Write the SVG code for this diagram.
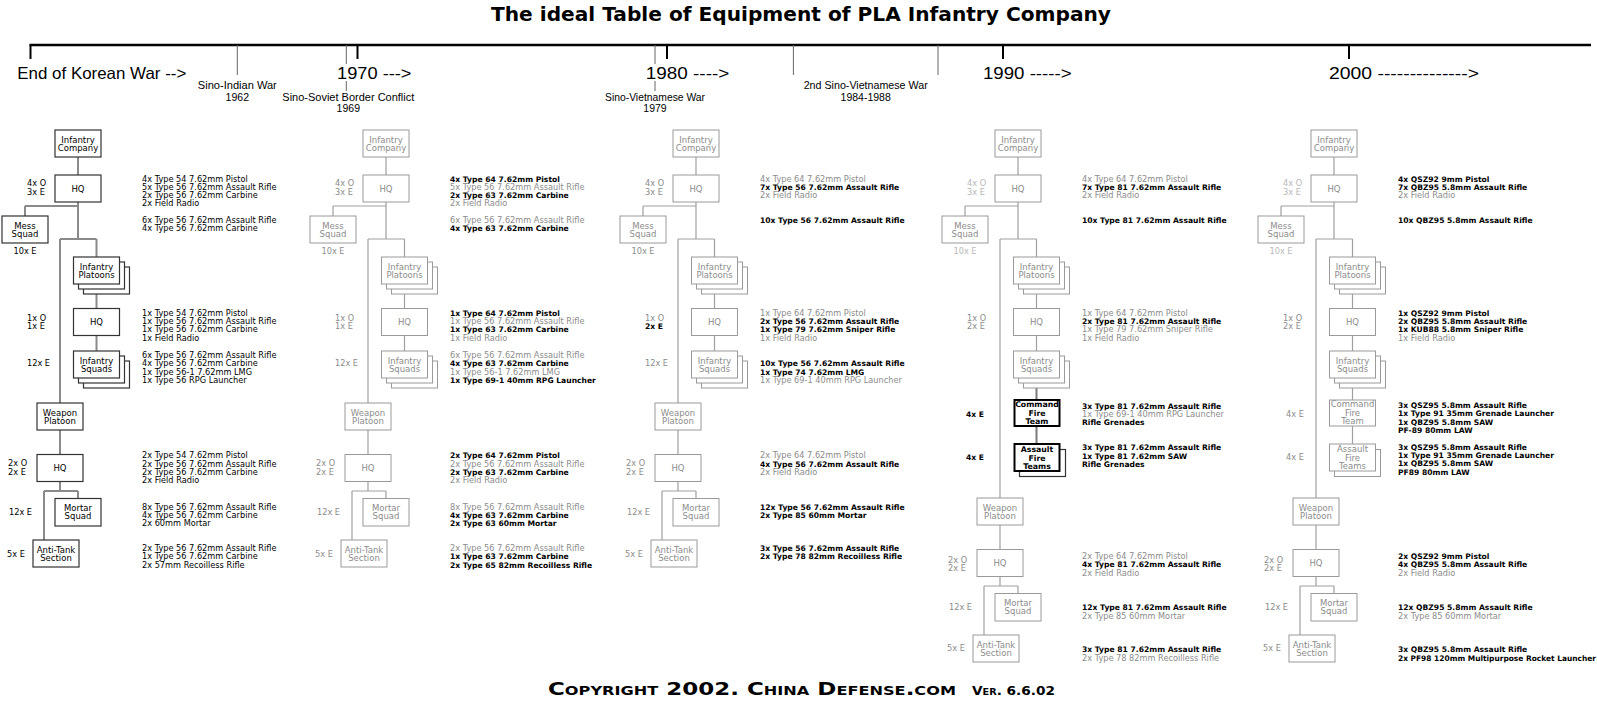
<svg xmlns="http://www.w3.org/2000/svg" width="1597" height="722" viewBox="0 0 1597 722">
<style>
text{font-family:"DejaVu Sans",Verdana,sans-serif}
.e{font-size:8.2px}
.k{fill:#000}
.g{fill:#8c8c8c}
.lg{fill:#b8b8b8}
.b{fill:#000;font-weight:bold;font-size:7.6px}
.n{font-size:8.5px;text-anchor:middle}
.nb{font-size:7.8px;font-weight:bold;text-anchor:middle;fill:#000}
.mid{text-anchor:middle}
.box1{fill:#fff;stroke:#333;stroke-width:1.2}
.box{fill:#fff;stroke:#9a9a9a;stroke-width:1}
.boxk{fill:#fff;stroke:#000;stroke-width:2}
.c1{fill:none;stroke:#8a8a8a;stroke-width:2}
.c{fill:none;stroke:#a0a0a0;stroke-width:1.2}
.ck{fill:none;stroke:#7a7a7a;stroke-width:2}
.tl{font-family:"Liberation Sans",Arial,sans-serif;fill:#000}
.big{font-size:16.5px}
.ev{font-size:10.5px;text-anchor:middle}
.thin{stroke:#666;stroke-width:1}
.thick{stroke:#000;stroke-width:2}
</style>

<g id="title">
<text x="491" y="20.5" font-size="19" font-weight="bold" textLength="620" lengthAdjust="spacingAndGlyphs">The ideal Table of Equipment of PLA Infantry Company</text>
</g>

<g id="timeline">
<line x1="29.5" y1="45" x2="1591" y2="45" stroke="#000" stroke-width="2.5"/>
<line class="thick" x1="30.5" y1="45" x2="30.5" y2="59"/>
<line class="thin" x1="237.3" y1="45" x2="237.3" y2="75"/>
<line class="thin" x1="346.3" y1="45" x2="346.3" y2="64"/>
<line class="thin" x1="346.3" y1="81" x2="346.3" y2="91"/>
<line class="thick" x1="357.5" y1="45" x2="357.5" y2="59"/>
<line class="thin" x1="655" y1="45" x2="655" y2="64"/>
<line class="thin" x1="655" y1="81" x2="655" y2="91"/>
<line class="thick" x1="667" y1="45" x2="667" y2="59"/>
<line class="thin" x1="793.4" y1="45" x2="793.4" y2="75"/>
<line class="thin" x1="938" y1="45" x2="938" y2="75"/>
<line class="thick" x1="1003" y1="45" x2="1003" y2="59"/>
<line class="thick" x1="1349" y1="45" x2="1349" y2="59"/>
<text class="tl big" x="17.3" y="79" textLength="169" lengthAdjust="spacingAndGlyphs">End of Korean War --&gt;</text>
<text class="tl big" x="337" y="79" textLength="74.5" lengthAdjust="spacingAndGlyphs">1970 ---&gt;</text>
<text class="tl big" x="645.7" y="79" textLength="83.6" lengthAdjust="spacingAndGlyphs">1980 ----&gt;</text>
<text class="tl big" x="983" y="79" textLength="88.6" lengthAdjust="spacingAndGlyphs">1990 -----&gt;</text>
<text class="tl big" x="1329" y="79" textLength="150" lengthAdjust="spacingAndGlyphs">2000 --------------&gt;</text>
<text class="tl ev" x="237.3" y="89.2" textLength="79" lengthAdjust="spacingAndGlyphs">Sino-Indian War</text>
<text class="tl ev" x="237.3" y="100.5">1962</text>
<text class="tl ev" x="348.3" y="100.5" textLength="132" lengthAdjust="spacingAndGlyphs">Sino-Soviet Border Conflict</text>
<text class="tl ev" x="348.3" y="111.7">1969</text>
<text class="tl ev" x="655" y="100.5" textLength="100" lengthAdjust="spacingAndGlyphs">Sino-Vietnamese War</text>
<text class="tl ev" x="655" y="111.7">1979</text>
<text class="tl ev" x="865.7" y="89.2" textLength="124" lengthAdjust="spacingAndGlyphs">2nd Sino-Vietnamese War</text>
<text class="tl ev" x="865.7" y="100.5">1984-1988</text>
</g>

<g id="connectors">
<g id="conn-col1" class="c1">
<path d="M78,157V175M78,202V239M25,206H78M25,206V216M60,239H96.5M96.5,239V257M60,239V403M96.5,294V308.5M96.5,335.5V351M60,430V454.5M60,481.5V491M44,491H78M78,491V498.5M44,491V540"/>
</g>
<g id="conn-col2" class="c" transform="translate(308,0)">
<path d="M78,157V175M78,202V239M25,206H78M25,206V216M60,239H96.5M96.5,239V257M60,239V403M96.5,294V308.5M96.5,335.5V351M60,430V454.5M60,481.5V491M44,491H78M78,491V498.5M44,491V540"/>
</g>
<g id="conn-col3" class="c" transform="translate(618,0)">
<path d="M78,157V175M78,202V239M25,206H78M25,206V216M60,239H96.5M96.5,239V257M60,239V403M96.5,294V308.5M96.5,335.5V351M60,430V454.5M60,481.5V491M44,491H78M78,491V498.5M44,491V540"/>
</g>
<g id="conn-col4" class="c" transform="translate(940,0)">
<path d="M78,157V175M78,202V239M25,206H78M25,206V216M60,239H96.5M96.5,239V257M60,239V498M96.5,294V308.5M96.5,335.5V351M60,525V549.5M60,576.5V586M44,586H78M78,586V593.5M44,586V635"/>
<path class="ck" d="M96.5,388V400M96.5,426V444"/>
</g>
<g id="conn-col5" class="c" transform="translate(1256,0)">
<path d="M78,157V175M78,202V239M25,206H78M25,206V216M60,239H96.5M96.5,239V257M60,239V498M96.5,294V308.5M96.5,335.5V351M96.5,388V400M96.5,426V444M60,525V549.5M60,576.5V586M44,586H78M78,586V593.5M44,586V635"/>
</g>
</g>

<!-- Column 1 -->
<g id="col1" transform="translate(0,0)">
<g id="c1-company"><rect class="box1" x="55" y="130" width="46" height="27"/><text class="n k" x="78" y="142.5">Infantry</text><text class="n k" x="78" y="150.8">Company</text></g>
<g id="c1-hq"><rect class="box1" x="55" y="175" width="46" height="27"/><text class="n k" x="78" y="191.5">HQ</text></g>
<g id="c1-mess"><rect class="box1" x="2" y="216" width="46" height="27"/><text class="n k" x="25" y="228.5">Mess</text><text class="n k" x="25" y="236.8">Squad</text></g>
<g id="c1-platoons"><rect class="box1" x="83.5" y="267" width="46" height="27"/><rect class="box1" x="78.5" y="262" width="46" height="27"/><rect class="box1" x="73.5" y="257" width="46" height="27"/><text class="n k" x="96.5" y="269.5">Infantry</text><text class="n k" x="96.5" y="277.8">Platoons</text></g>
<g id="c1-phq"><rect class="box1" x="73.5" y="308.5" width="46" height="27"/><text class="n k" x="96.5" y="325">HQ</text></g>
<g id="c1-squads"><rect class="box1" x="83.5" y="361" width="46" height="27"/><rect class="box1" x="78.5" y="356" width="46" height="27"/><rect class="box1" x="73.5" y="351" width="46" height="27"/><text class="n k" x="96.5" y="363.5">Infantry</text><text class="n k" x="96.5" y="371.8">Squads</text></g>
<g id="c1-weapon"><rect class="box1" x="37" y="403" width="46" height="27"/><text class="n k" x="60" y="415.5">Weapon</text><text class="n k" x="60" y="423.8">Platoon</text></g>
<g id="c1-whq"><rect class="box1" x="37" y="454.5" width="46" height="27"/><text class="n k" x="60" y="471">HQ</text></g>
<g id="c1-mortar"><rect class="box1" x="55" y="498.5" width="46" height="27.5"/><text class="n k" x="78" y="511">Mortar</text><text class="n k" x="78" y="519.3">Squad</text></g>
<g id="c1-at"><rect class="box1" x="33" y="540" width="46" height="27"/><text class="n k" x="56" y="552.5">Anti-Tank</text><text class="n k" x="56" y="560.8">Section</text></g>
<g id="c1-labels" class="e k">
<text x="27" y="186.3">4x O</text><text x="27" y="194.7">3x E</text>
<text class="mid" x="25" y="254">10x E</text>
<text x="27" y="320.7">1x O</text><text x="27" y="329">1x E</text>
<text x="27" y="366.3">12x E</text>
<text x="8" y="466.3">2x O</text><text x="8" y="474.7">2x E</text>
<text x="9" y="514.7">12x E</text>
<text x="7" y="557">5x E</text>
</g>
<g id="c1-equipment" class="e k">
<text x="142" y="181.5">4x Type 54 7.62mm Pistol</text>
<text x="142" y="189.8">5x Type 56 7.62mm Assault Rifle</text>
<text x="142" y="198.1">2x Type 56 7.62mm Carbine</text>
<text x="142" y="206.4">2x Field Radio</text>
<text x="142" y="223">6x Type 56 7.62mm Assault Rifle</text>
<text x="142" y="231.3">4x Type 56 7.62mm Carbine</text>
<text x="142" y="315.7">1x Type 54 7.62mm Pistol</text>
<text x="142" y="324">1x Type 56 7.62mm Assault Rifle</text>
<text x="142" y="332.3">1x Type 56 7.62mm Carbine</text>
<text x="142" y="340.6">1x Field Radio</text>
<text x="142" y="358">6x Type 56 7.62mm Assault Rifle</text>
<text x="142" y="366.3">4x Type 56 7.62mm Carbine</text>
<text x="142" y="374.6">1x Type 56-1 7.62mm LMG</text>
<text x="142" y="382.9">1x Type 56 RPG Launcher</text>
<text x="142" y="458.3">2x Type 54 7.62mm Pistol</text>
<text x="142" y="466.6">2x Type 56 7.62mm Assault Rifle</text>
<text x="142" y="474.9">2x Type 56 7.62mm Carbine</text>
<text x="142" y="483.2">2x Field Radio</text>
<text x="142" y="509.7">8x Type 56 7.62mm Assault Rifle</text>
<text x="142" y="518">4x Type 56 7.62mm Carbine</text>
<text x="142" y="526.3">2x 60mm Mortar</text>
<text x="142" y="551">2x Type 56 7.62mm Assault Rifle</text>
<text x="142" y="559.3">1x Type 56 7.62mm Carbine</text>
<text x="142" y="567.6">2x 57mm Recoilless Rifle</text>
</g>
</g>

<!-- Column 2 -->
<g id="col2" transform="translate(308,0)">
<g id="c2-company"><rect class="box" x="55" y="130" width="46" height="27"/><text class="n g" x="78" y="142.5">Infantry</text><text class="n g" x="78" y="150.8">Company</text></g>
<g id="c2-hq"><rect class="box" x="55" y="175" width="46" height="27"/><text class="n g" x="78" y="191.5">HQ</text></g>
<g id="c2-mess"><rect class="box" x="2" y="216" width="46" height="27"/><text class="n g" x="25" y="228.5">Mess</text><text class="n g" x="25" y="236.8">Squad</text></g>
<g id="c2-platoons"><rect class="box" x="83.5" y="267" width="46" height="27"/><rect class="box" x="78.5" y="262" width="46" height="27"/><rect class="box" x="73.5" y="257" width="46" height="27"/><text class="n g" x="96.5" y="269.5">Infantry</text><text class="n g" x="96.5" y="277.8">Platoons</text></g>
<g id="c2-phq"><rect class="box" x="73.5" y="308.5" width="46" height="27"/><text class="n g" x="96.5" y="325">HQ</text></g>
<g id="c2-squads"><rect class="box" x="83.5" y="361" width="46" height="27"/><rect class="box" x="78.5" y="356" width="46" height="27"/><rect class="box" x="73.5" y="351" width="46" height="27"/><text class="n g" x="96.5" y="363.5">Infantry</text><text class="n g" x="96.5" y="371.8">Squads</text></g>
<g id="c2-weapon"><rect class="box" x="37" y="403" width="46" height="27"/><text class="n g" x="60" y="415.5">Weapon</text><text class="n g" x="60" y="423.8">Platoon</text></g>
<g id="c2-whq"><rect class="box" x="37" y="454.5" width="46" height="27"/><text class="n g" x="60" y="471">HQ</text></g>
<g id="c2-mortar"><rect class="box" x="55" y="498.5" width="46" height="27.5"/><text class="n g" x="78" y="511">Mortar</text><text class="n g" x="78" y="519.3">Squad</text></g>
<g id="c2-at"><rect class="box" x="33" y="540" width="46" height="27"/><text class="n g" x="56" y="552.5">Anti-Tank</text><text class="n g" x="56" y="560.8">Section</text></g>
<g id="c2-labels" class="e g">
<text x="27" y="186.3">4x O</text><text x="27" y="194.7">3x E</text>
<text class="mid" x="25" y="254">10x E</text>
<text x="27" y="320.7">1x O</text><text x="27" y="329">1x E</text>
<text x="27" y="366.3">12x E</text>
<text x="8" y="466.3">2x O</text><text x="8" y="474.7">2x E</text>
<text x="9" y="514.7">12x E</text>
<text x="7" y="557">5x E</text>
</g>
<g id="c2-equipment" class="e">
<text class="b" x="142" y="181.5">4x Type 64 7.62mm Pistol</text>
<text class="g" x="142" y="189.8">5x Type 56 7.62mm Assault Rifle</text>
<text class="b" x="142" y="198.1">2x Type 63 7.62mm Carbine</text>
<text class="g" x="142" y="206.4">2x Field Radio</text>
<text class="g" x="142" y="223">6x Type 56 7.62mm Assault Rifle</text>
<text class="b" x="142" y="231.3">4x Type 63 7.62mm Carbine</text>
<text class="b" x="142" y="315.7">1x Type 64 7.62mm Pistol</text>
<text class="g" x="142" y="324">1x Type 56 7.62mm Assault Rifle</text>
<text class="b" x="142" y="332.3">1x Type 63 7.62mm Carbine</text>
<text class="g" x="142" y="340.6">1x Field Radio</text>
<text class="g" x="142" y="358">6x Type 56 7.62mm Assault Rifle</text>
<text class="b" x="142" y="366.3">4x Type 63 7.62mm Carbine</text>
<text class="g" x="142" y="374.6">1x Type 56-1 7.62mm LMG</text>
<text class="b" x="142" y="382.9">1x Type 69-1 40mm RPG Launcher</text>
<text class="b" x="142" y="458.3">2x Type 64 7.62mm Pistol</text>
<text class="g" x="142" y="466.6">2x Type 56 7.62mm Assault Rifle</text>
<text class="b" x="142" y="474.9">2x Type 63 7.62mm Carbine</text>
<text class="g" x="142" y="483.2">2x Field Radio</text>
<text class="g" x="142" y="509.7">8x Type 56 7.62mm Assault Rifle</text>
<text class="b" x="142" y="518">4x Type 63 7.62mm Carbine</text>
<text class="b" x="142" y="526.3">2x Type 63 60mm Mortar</text>
<text class="g" x="142" y="551">2x Type 56 7.62mm Assault Rifle</text>
<text class="b" x="142" y="559.3">1x Type 63 7.62mm Carbine</text>
<text class="b" x="142" y="567.6">2x Type 65 82mm Recoilless Rifle</text>
</g>
</g>

<!-- Column 3 -->
<g id="col3" transform="translate(618,0)">
<g id="c3-company"><rect class="box" x="55" y="130" width="46" height="27"/><text class="n g" x="78" y="142.5">Infantry</text><text class="n g" x="78" y="150.8">Company</text></g>
<g id="c3-hq"><rect class="box" x="55" y="175" width="46" height="27"/><text class="n g" x="78" y="191.5">HQ</text></g>
<g id="c3-mess"><rect class="box" x="2" y="216" width="46" height="27"/><text class="n g" x="25" y="228.5">Mess</text><text class="n g" x="25" y="236.8">Squad</text></g>
<g id="c3-platoons"><rect class="box" x="83.5" y="267" width="46" height="27"/><rect class="box" x="78.5" y="262" width="46" height="27"/><rect class="box" x="73.5" y="257" width="46" height="27"/><text class="n g" x="96.5" y="269.5">Infantry</text><text class="n g" x="96.5" y="277.8">Platoons</text></g>
<g id="c3-phq"><rect class="box" x="73.5" y="308.5" width="46" height="27"/><text class="n g" x="96.5" y="325">HQ</text></g>
<g id="c3-squads"><rect class="box" x="83.5" y="361" width="46" height="27"/><rect class="box" x="78.5" y="356" width="46" height="27"/><rect class="box" x="73.5" y="351" width="46" height="27"/><text class="n g" x="96.5" y="363.5">Infantry</text><text class="n g" x="96.5" y="371.8">Squads</text></g>
<g id="c3-weapon"><rect class="box" x="37" y="403" width="46" height="27"/><text class="n g" x="60" y="415.5">Weapon</text><text class="n g" x="60" y="423.8">Platoon</text></g>
<g id="c3-whq"><rect class="box" x="37" y="454.5" width="46" height="27"/><text class="n g" x="60" y="471">HQ</text></g>
<g id="c3-mortar"><rect class="box" x="55" y="498.5" width="46" height="27.5"/><text class="n g" x="78" y="511">Mortar</text><text class="n g" x="78" y="519.3">Squad</text></g>
<g id="c3-at"><rect class="box" x="33" y="540" width="46" height="27"/><text class="n g" x="56" y="552.5">Anti-Tank</text><text class="n g" x="56" y="560.8">Section</text></g>
<g id="c3-labels" class="e g">
<text x="27" y="186.3">4x O</text><text x="27" y="194.7">3x E</text>
<text class="mid" x="25" y="254">10x E</text>
<text x="27" y="320.7">1x O</text><text class="b" x="27" y="329">2x E</text>
<text x="27" y="366.3">12x E</text>
<text x="8" y="466.3">2x O</text><text x="8" y="474.7">2x E</text>
<text x="9" y="514.7">12x E</text>
<text x="7" y="557">5x E</text>
</g>
<g id="c3-equipment" class="e">
<text class="g" x="142" y="181.5">4x Type 64 7.62mm Pistol</text>
<text class="b" x="142" y="189.8">7x Type 56 7.62mm Assault Rifle</text>
<text class="g" x="142" y="198.1">2x Field Radio</text>
<text class="b" x="142" y="223">10x Type 56 7.62mm Assault Rifle</text>
<text class="g" x="142" y="315.7">1x Type 64 7.62mm Pistol</text>
<text class="b" x="142" y="324">2x Type 56 7.62mm Assault Rifle</text>
<text class="b" x="142" y="332.3">1x Type 79 7.62mm Sniper Rifle</text>
<text class="g" x="142" y="340.6">1x Field Radio</text>
<text class="b" x="142" y="366.3">10x Type 56 7.62mm Assault Rifle</text>
<text class="b" x="142" y="374.6">1x Type 74 7.62mm LMG</text>
<text class="g" x="142" y="382.9">1x Type 69-1 40mm RPG Launcher</text>
<text class="g" x="142" y="458.3">2x Type 64 7.62mm Pistol</text>
<text class="b" x="142" y="466.6">4x Type 56 7.62mm Assault Rifle</text>
<text class="g" x="142" y="474.9">2x Field Radio</text>
<text class="b" x="142" y="509.7">12x Type 56 7.62mm Assault Rifle</text>
<text class="b" x="142" y="518">2x Type 85 60mm Mortar</text>
<text class="b" x="142" y="551">3x Type 56 7.62mm Assault Rifle</text>
<text class="b" x="142" y="559.3">2x Type 78 82mm Recoilless Rifle</text>
</g>
</g>

<!-- Column 4 -->
<g id="col4" transform="translate(940,0)">
<g id="c4-company"><rect class="box" x="55" y="130" width="46" height="27"/><text class="n g" x="78" y="142.5">Infantry</text><text class="n g" x="78" y="150.8">Company</text></g>
<g id="c4-hq"><rect class="box" x="55" y="175" width="46" height="27"/><text class="n g" x="78" y="191.5">HQ</text></g>
<g id="c4-mess"><rect class="box" x="2" y="216" width="46" height="27"/><text class="n g" x="25" y="228.5">Mess</text><text class="n g" x="25" y="236.8">Squad</text></g>
<g id="c4-platoons"><rect class="box" x="83.5" y="267" width="46" height="27"/><rect class="box" x="78.5" y="262" width="46" height="27"/><rect class="box" x="73.5" y="257" width="46" height="27"/><text class="n g" x="96.5" y="269.5">Infantry</text><text class="n g" x="96.5" y="277.8">Platoons</text></g>
<g id="c4-phq"><rect class="box" x="73.5" y="308.5" width="46" height="27"/><text class="n g" x="96.5" y="325">HQ</text></g>
<g id="c4-squads"><rect class="box" x="83.5" y="361" width="46" height="27"/><rect class="box" x="78.5" y="356" width="46" height="27"/><rect class="box" x="73.5" y="351" width="46" height="27"/><text class="n g" x="96.5" y="363.5">Infantry</text><text class="n g" x="96.5" y="371.8">Squads</text></g>
<g id="c4-cft"><rect class="boxk" x="74.5" y="400" width="45" height="26"/><text class="nb" x="97" y="407.3">Command</text><text class="nb" x="97" y="415.5">Fire</text><text class="nb" x="97" y="423.7">Team</text></g>
<g id="c4-aft"><rect class="box1" x="79.5" y="449.5" width="46" height="27"/><rect class="boxk" x="74.5" y="444" width="45" height="27"/><text class="nb" x="97" y="452.3">Assault</text><text class="nb" x="97" y="460.5">Fire</text><text class="nb" x="97" y="468.7">Teams</text></g>
<g id="c4-weapon"><rect class="box" x="37" y="498" width="46" height="27"/><text class="n g" x="60" y="510.5">Weapon</text><text class="n g" x="60" y="518.8">Platoon</text></g>
<g id="c4-whq"><rect class="box" x="37" y="549.5" width="46" height="27"/><text class="n g" x="60" y="566">HQ</text></g>
<g id="c4-mortar"><rect class="box" x="55" y="593.5" width="46" height="27.5"/><text class="n g" x="78" y="606">Mortar</text><text class="n g" x="78" y="614.3">Squad</text></g>
<g id="c4-at"><rect class="box" x="33" y="635" width="46" height="27"/><text class="n g" x="56" y="647.5">Anti-Tank</text><text class="n g" x="56" y="655.8">Section</text></g>
<g id="c4-labels" class="e g">
<text class="lg" x="27" y="186.3">4x O</text><text class="lg" x="27" y="194.7">3x E</text>
<text class="mid lg" x="25" y="254">10x E</text>
<text x="27" y="320.7">1x O</text><text x="27" y="329">2x E</text>
<text class="b" x="26" y="417">4x E</text>
<text class="b" x="26" y="460.3">4x E</text>
<text x="8" y="563">2x O</text><text x="8" y="571.3">2x E</text>
<text x="9" y="609.7">12x E</text>
<text x="7" y="651.3">5x E</text>
</g>
<g id="c4-equipment" class="e">
<text class="g" x="142" y="181.5">4x Type 64 7.62mm Pistol</text>
<text class="b" x="142" y="189.8">7x Type 81 7.62mm Assault Rifle</text>
<text class="g" x="142" y="198.1">2x Field Radio</text>
<text class="b" x="142" y="223">10x Type 81 7.62mm Assault Rifle</text>
<text class="g" x="142" y="315.7">1x Type 64 7.62mm Pistol</text>
<text class="b" x="142" y="324">2x Type 81 7.62mm Assault Rifle</text>
<text class="g" x="142" y="332.3">1x Type 79 7.62mm Sniper Rifle</text>
<text class="g" x="142" y="340.6">1x Field Radio</text>
<text class="b" x="142" y="408.7">3x Type 81 7.62mm Assault Rifle</text>
<text class="g" x="142" y="417">1x Type 69-1 40mm RPG Launcher</text>
<text class="b" x="142" y="425.3">Rifle Grenades</text>
<text class="b" x="142" y="450.3">3x Type 81 7.62mm Assault Rifle</text>
<text class="b" x="142" y="458.6">1x Type 81 7.62mm SAW</text>
<text class="b" x="142" y="466.9">Rifle Grenades</text>
<text class="g" x="142" y="559">2x Type 64 7.62mm Pistol</text>
<text class="b" x="142" y="567.3">4x Type 81 7.62mm Assault Rifle</text>
<text class="g" x="142" y="575.6">2x Field Radio</text>
<text class="b" x="142" y="610.3">12x Type 81 7.62mm Assault Rifle</text>
<text class="g" x="142" y="618.6">2x Type 85 60mm Mortar</text>
<text class="b" x="142" y="652.3">3x Type 81 7.62mm Assault Rifle</text>
<text class="g" x="142" y="660.6">2x Type 78 82mm Recoilless Rifle</text>
</g>
</g>

<!-- Column 5 -->
<g id="col5" transform="translate(1256,0)">
<g id="c5-company"><rect class="box" x="55" y="130" width="46" height="27"/><text class="n g" x="78" y="142.5">Infantry</text><text class="n g" x="78" y="150.8">Company</text></g>
<g id="c5-hq"><rect class="box" x="55" y="175" width="46" height="27"/><text class="n g" x="78" y="191.5">HQ</text></g>
<g id="c5-mess"><rect class="box" x="2" y="216" width="46" height="27"/><text class="n g" x="25" y="228.5">Mess</text><text class="n g" x="25" y="236.8">Squad</text></g>
<g id="c5-platoons"><rect class="box" x="83.5" y="267" width="46" height="27"/><rect class="box" x="78.5" y="262" width="46" height="27"/><rect class="box" x="73.5" y="257" width="46" height="27"/><text class="n g" x="96.5" y="269.5">Infantry</text><text class="n g" x="96.5" y="277.8">Platoons</text></g>
<g id="c5-phq"><rect class="box" x="73.5" y="308.5" width="46" height="27"/><text class="n g" x="96.5" y="325">HQ</text></g>
<g id="c5-squads"><rect class="box" x="83.5" y="361" width="46" height="27"/><rect class="box" x="78.5" y="356" width="46" height="27"/><rect class="box" x="73.5" y="351" width="46" height="27"/><text class="n g" x="96.5" y="363.5">Infantry</text><text class="n g" x="96.5" y="371.8">Squads</text></g>
<g id="c5-cft"><rect class="box" x="73.5" y="400" width="46" height="26"/><text class="n g" x="96.5" y="407.3">Command</text><text class="n g" x="96.5" y="415.5">Fire</text><text class="n g" x="96.5" y="423.7">Team</text></g>
<g id="c5-aft"><rect class="box" x="78.5" y="449.5" width="46" height="27"/><rect class="box" x="73.5" y="444" width="46" height="27"/><text class="n g" x="96.5" y="452.3">Assault</text><text class="n g" x="96.5" y="460.5">Fire</text><text class="n g" x="96.5" y="468.7">Teams</text></g>
<g id="c5-weapon"><rect class="box" x="37" y="498" width="46" height="27"/><text class="n g" x="60" y="510.5">Weapon</text><text class="n g" x="60" y="518.8">Platoon</text></g>
<g id="c5-whq"><rect class="box" x="37" y="549.5" width="46" height="27"/><text class="n g" x="60" y="566">HQ</text></g>
<g id="c5-mortar"><rect class="box" x="55" y="593.5" width="46" height="27.5"/><text class="n g" x="78" y="606">Mortar</text><text class="n g" x="78" y="614.3">Squad</text></g>
<g id="c5-at"><rect class="box" x="33" y="635" width="46" height="27"/><text class="n g" x="56" y="647.5">Anti-Tank</text><text class="n g" x="56" y="655.8">Section</text></g>
<g id="c5-labels" class="e g">
<text class="lg" x="27" y="186.3">4x O</text><text class="lg" x="27" y="194.7">3x E</text>
<text class="mid lg" x="25" y="254">10x E</text>
<text x="27" y="320.7">1x O</text><text x="27" y="329">2x E</text>
<text x="30" y="416.8">4x E</text>
<text x="30" y="460.3">4x E</text>
<text x="8" y="563">2x O</text><text x="8" y="571.3">2x E</text>
<text x="9" y="609.7">12x E</text>
<text x="7" y="651.3">5x E</text>
</g>
<g id="c5-equipment" class="e">
<text class="b" x="142" y="181.5">4x QSZ92 9mm Pistol</text>
<text class="b" x="142" y="189.8">7x QBZ95 5.8mm Assault Rifle</text>
<text class="g" x="142" y="198.1">2x Field Radio</text>
<text class="b" x="142" y="223">10x QBZ95 5.8mm Assault Rifle</text>
<text class="b" x="142" y="315.7">1x QSZ92 9mm Pistol</text>
<text class="b" x="142" y="324">2x QBZ95 5.8mm Assault Rifle</text>
<text class="b" x="142" y="332.3">1x KUB88 5.8mm Sniper Rifle</text>
<text class="g" x="142" y="340.6">1x Field Radio</text>
<text class="b" x="142" y="408">3x QSZ95 5.8mm Assault Rifle</text>
<text class="b" x="142" y="416.3">1x Type 91 35mm Grenade Launcher</text>
<text class="b" x="142" y="424.6">1x QBZ95 5.8mm SAW</text>
<text class="b" x="142" y="432.9">PF-89 80mm LAW</text>
<text class="b" x="142" y="449.7">3x QSZ95 5.8mm Assault Rifle</text>
<text class="b" x="142" y="458">1x Type 91 35mm Grenade Launcher</text>
<text class="b" x="142" y="466.3">1x QBZ95 5.8mm SAW</text>
<text class="b" x="142" y="474.6">PF89 80mm LAW</text>
<text class="b" x="142" y="559">2x QSZ92 9mm Pistol</text>
<text class="b" x="142" y="567.3">4x QBZ95 5.8mm Assault Rifle</text>
<text class="g" x="142" y="575.6">2x Field Radio</text>
<text class="b" x="142" y="610.3">12x QBZ95 5.8mm Assault Rifle</text>
<text class="g" x="142" y="618.6">2x Type 85 60mm Mortar</text>
<text class="b" x="142" y="652.3">3x QBZ95 5.8mm Assault Rifle</text>
<text class="b" x="142" y="660.6" textLength="198" lengthAdjust="spacingAndGlyphs">2x PF98 120mm Multipurpose Rocket Launcher</text>
</g>
</g>

<g id="copyright">
<text x="548" y="694.5" font-size="18.5" font-weight="bold" font-variant="small-caps" textLength="408" lengthAdjust="spacingAndGlyphs">Copyright 2002. China Defense.com</text>
<text x="972" y="694.5" font-size="12.7" font-weight="bold" font-variant="small-caps" textLength="83" lengthAdjust="spacingAndGlyphs">Ver. 6.6.02</text>
</g>
</svg>
